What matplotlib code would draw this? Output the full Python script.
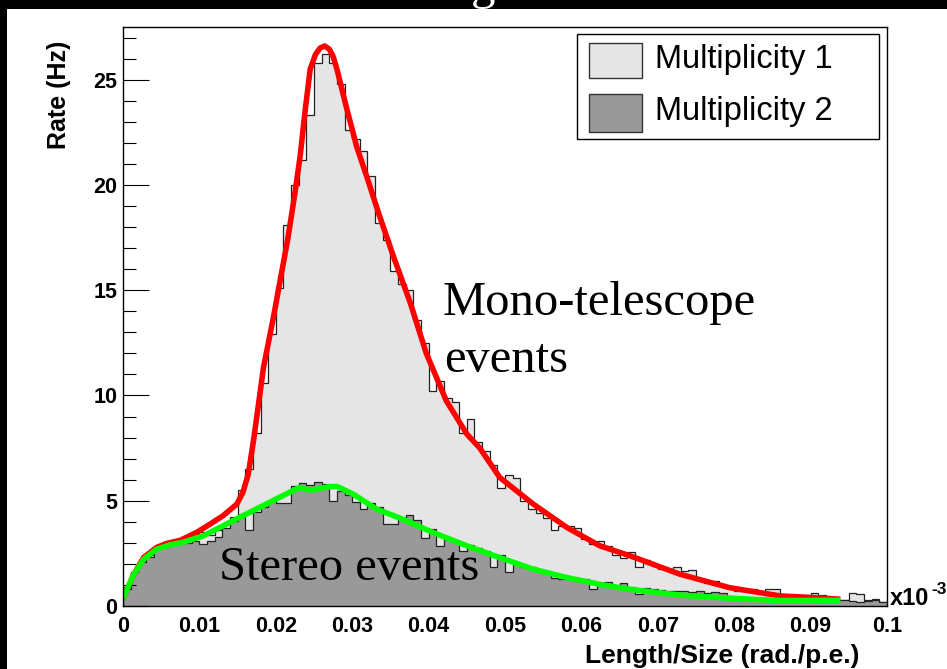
import numpy as np
import matplotlib
matplotlib.use("Agg")
import matplotlib.pyplot as plt
from matplotlib.patches import Rectangle
from matplotlib.ticker import MultipleLocator

plt.rcParams.update({"font.family": "Liberation Sans", "figure.facecolor": "white"})

# Rate per bin (Hz), 100 bins over 0..0.1 (x10^-3 rad./p.e.)
MULT1 = [0.9, 1.6, 2.1, 2.4, 2.7, 2.9, 3.0, 3.1, 3.2, 3.4,
         3.5, 3.35, 3.6, 3.9, 4.25, 5.5, 6.5, 8.2, 10.6, 12.9,
         15.1, 18.1, 20.0, 21.2, 23.3, 25.8, 26.2, 25.8, 24.8, 22.6,
         22.2, 21.6, 20.4, 18.2, 17.4, 15.9, 15.3, 15.0, 13.6, 12.5,
         10.2, 10.7, 9.9, 9.7, 8.2, 8.9, 7.8, 7.35, 6.7, 5.6,
         6.2, 6.1, 5.0, 4.6, 4.4, 4.2, 3.6, 3.8, 3.8, 3.7,
         3.2, 2.95, 3.1, 2.85, 2.4, 2.3, 2.55, 1.85, 2.2, 2.0,
         1.75, 1.75, 1.85, 1.65, 1.7, 1.25, 1.1, 1.2, 0.95, 0.9,
         0.7, 0.8, 0.8, 0.7, 0.8, 0.8, 0.45, 0.4, 0.35, 0.45,
         0.6, 0.5, 0.45, 0.3, 0.3, 0.6, 0.55, 0.3, 0.35, 0.2]
MULT2 = [0.8, 1.6, 2.1, 2.35, 2.7, 2.8, 2.95, 3.0, 3.0, 3.1,
         2.95, 3.1, 3.3, 3.7, 4.05, 4.25, 3.6, 4.45, 4.7, 5.0,
         4.9, 4.9, 5.7, 5.85, 5.75, 5.9, 5.8, 5.0, 5.45, 5.25,
         4.95, 4.6, 4.9, 4.7, 3.9, 3.9, 4.2, 4.3, 4.1, 3.25,
         3.65, 2.85, 3.2, 3.1, 2.6, 2.9, 2.75, 2.6, 1.85, 2.4,
         1.6, 2.05, 1.85, 1.85, 1.7, 1.6, 1.35, 1.3, 1.35, 1.2,
         1.3, 0.8, 1.0, 1.15, 0.95, 1.1, 0.9, 0.55, 0.85, 0.8,
         0.75, 0.7, 0.7, 0.7, 0.65, 0.72, 0.6, 0.65, 0.62, 0.48,
         0.45, 0.42, 0.4, 0.4, 0.38, 0.35, 0.4, 0.33, 0.3, 0.3,
         0.28, 0.3, 0.25, 0.28, 0.3, 0.25, 0.17, 0.25, 0.3, 0.2]

# fitted curves, sampled points
FIT1_X = [0.0, 0.0014, 0.0027, 0.0044, 0.0057, 0.0075, 0.0096, 0.0114, 0.0131,
          0.0149, 0.0157, 0.0164, 0.0171, 0.0184, 0.0197, 0.0216, 0.0225, 0.0232,
          0.0238, 0.0245, 0.0252, 0.0258, 0.0264, 0.0270, 0.0275, 0.0280, 0.0293,
          0.0306, 0.0319, 0.0336, 0.0354, 0.0376, 0.0397, 0.0423, 0.0450, 0.0467,
          0.0493, 0.0537, 0.0581, 0.0624, 0.0664, 0.0729, 0.0794, 0.0860, 0.0904,
          0.0939]
FIT1_Y = [0.35, 1.5, 2.3, 2.78, 2.97, 3.12, 3.49, 3.89, 4.29,
          4.84, 5.4, 6.27, 7.9, 11.35, 13.73, 17.5, 19.6, 21.4,
          23.4, 25.5, 26.2, 26.5, 26.6, 26.45, 26.1, 25.5, 23.6,
          21.8, 20.4, 18.5, 16.6, 14.4, 12.0, 9.76, 8.17, 7.5,
          6.11, 4.84, 3.73, 2.86, 2.38, 1.51, 0.87, 0.48, 0.40,
          0.32]
FIT2_X = [0.0, 0.0014, 0.0027, 0.0044, 0.0061, 0.0078, 0.0105, 0.0131, 0.0157,
          0.0183, 0.0209, 0.0231, 0.0246, 0.0268, 0.0280, 0.0301, 0.0332, 0.0363,
          0.0406, 0.0450, 0.0493, 0.0537, 0.0581, 0.0624, 0.0664, 0.0729, 0.0794,
          0.0860, 0.0939]
FIT2_Y = [0.35, 1.5, 2.22, 2.7, 2.9, 3.02, 3.33, 3.81, 4.29,
          4.76, 5.24, 5.63, 5.5, 5.66, 5.68, 5.32, 4.6, 4.17,
          3.49, 2.86, 2.3, 1.75, 1.35, 1.03, 0.79, 0.52, 0.37,
          0.26, 0.27]

XTICKS = [0.0, 0.01, 0.02, 0.03, 0.04, 0.05, 0.06, 0.07, 0.08, 0.09, 0.1]
XTICK_LABELS = ["0", "0.01", "0.02", "0.03", "0.04", "0.05", "0.06", "0.07", "0.08", "0.09", "0.1"]
YTICKS = [0, 5, 10, 15, 20, 25]
LABELS = ["Multiplicity 1", "Multiplicity 2"]

LIGHT = "#e5e5e5"
DARK = "#999999"

W, H = 947, 669


def fx(px):
    return px / W


def fy(py):
    return 1 - py / H


fig = plt.figure(figsize=(W / 100, H / 100), dpi=100)
ax = fig.add_axes([fx(123), fy(606), fx(887) - fx(123), fy(27) - fy(606)])

edges = np.linspace(0, 0.1, len(MULT1) + 1)
ax.stairs(MULT1, edges, fill=True, color=LIGHT, zorder=1)
ax.stairs(MULT1, edges, color="#222222", linewidth=0.9, zorder=1.1)
ax.stairs(MULT2, edges, fill=True, color=DARK, zorder=1.2)
ax.stairs(MULT2, edges, color="#222222", linewidth=0.9, zorder=1.3)

ax.plot(FIT1_X, FIT1_Y, color="#ff0000", linewidth=4, solid_capstyle="butt", zorder=2)
ax.plot(FIT2_X, FIT2_Y, color="#00ff00", linewidth=4, solid_capstyle="butt", zorder=2.1)

ax.set_xlim(0, 0.1)
ax.set_ylim(0, 27.5)
ax.set_xticks(XTICKS)
ax.set_xticklabels(XTICK_LABELS)
ax.set_yticks(YTICKS)
ax.yaxis.set_minor_locator(MultipleLocator(1))
ax.tick_params(axis="x", length=0, pad=7, labelsize=15.5)
ax.tick_params(axis="y", which="major", direction="in", length=18.7, width=0.8,
               pad=4, labelsize=15.5)
ax.tick_params(axis="y", which="minor", direction="in", length=9.4, width=0.8)
for lbl in ax.get_xticklabels() + ax.get_yticklabels():
    lbl.set_fontweight("bold")
for sp in ax.spines.values():
    sp.set_linewidth(1)
    sp.set_color("black")
    sp.set_zorder(3)

# axis titles
fig.text(fx(59), fy(95), "Rate (Hz)", rotation=90, ha="center", va="center",
         fontsize=18, fontweight="bold")
fig.text(fx(859), fy(663), "Length/Size (rad./p.e.)", ha="right", va="baseline",
         fontsize=19, fontweight="bold")
fig.text(fx(890), fy(605), "x10", ha="left", va="baseline", fontsize=17, fontweight="bold")
fig.text(fx(931), fy(594), "-3", ha="left", va="baseline", fontsize=12.5, fontweight="bold")

# legend box
fig.add_artist(Rectangle((fx(577), fy(139)), fx(879) - fx(577), fy(34) - fy(139),
                         transform=fig.transFigure, facecolor="white",
                         edgecolor="black", linewidth=1))
for (top, bot, base), col, lab in zip([(42.7, 78.3, 68.3), (94, 131.7, 120)],
                                      [LIGHT, DARK], LABELS):
    fig.add_artist(Rectangle((fx(589.3), fy(bot)), fx(641.7) - fx(589.3), fy(top) - fy(bot),
                             transform=fig.transFigure, facecolor=col,
                             edgecolor="#333333", linewidth=1))
    fig.text(fx(655), fy(base), lab, ha="left", va="baseline", fontsize=23.5)

# annotations
serif = "Liberation Serif"
fig.text(fx(443), fy(315), "Mono-telescope", family=serif, fontsize=35,
         ha="left", va="baseline")
fig.text(fx(444), fy(372), "events", family=serif, fontsize=35,
         ha="left", va="baseline")
fig.text(fx(219), fy(580), "Stereo events", family=serif, fontsize=35,
         ha="left", va="baseline")

# dark frame around the slide
fig.add_artist(Rectangle((0, fy(9)), 1, 9 / H, transform=fig.transFigure,
                         facecolor="black", edgecolor="none", zorder=5))
fig.add_artist(Rectangle((0, 0), fx(7), 1, transform=fig.transFigure,
                         facecolor="black", edgecolor="none", zorder=5))
fig.text(fx(483), fy(-1), "g", family=serif, fontsize=35, color="white",
         ha="center", va="baseline", zorder=6)

fig.savefig("out.png", dpi=100)
